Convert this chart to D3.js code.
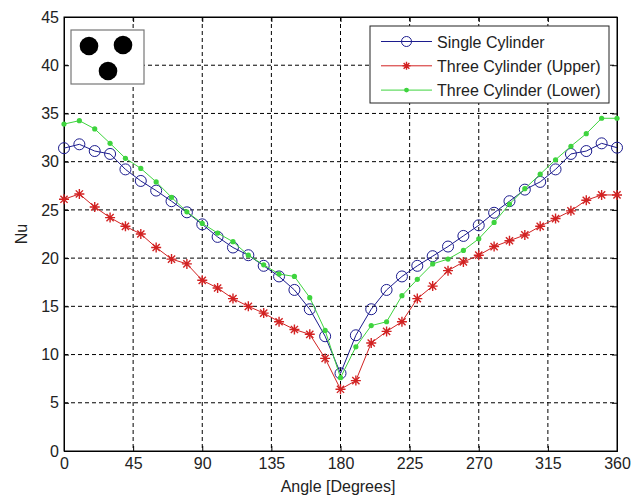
<!DOCTYPE html>
<html>
<head>
<meta charset="utf-8">
<script src="https://cdn.jsdelivr.net/npm/d3@7/dist/d3.min.js"></script>
<style>
  html, body { margin: 0; padding: 0; background: #ffffff; }
  svg { display: block; }
  text { font-family: "Liberation Sans", Arial, sans-serif; fill: #222; }
</style>
</head>
<body>
<svg id="chart" width="643" height="497"></svg>
<script>
// Angular positions around the cylinder, every 10 degrees
const angles = [0,10,20,30,40,50,60,70,80,90,100,110,120,130,140,150,160,170,180,
                190,200,210,220,230,240,250,260,270,280,290,300,310,320,330,340,350,360];

// Local Nusselt number for each configuration
const singleCylinder = [31.4,31.8,31.1,30.8,29.2,28.0,27.0,25.9,24.75,23.5,22.2,21.1,20.3,19.2,18.1,16.7,14.7,11.9,8.05,
                        12.0,14.7,16.7,18.1,19.2,20.2,21.2,22.3,23.4,24.7,25.9,27.1,27.9,29.2,30.8,31.1,31.9,31.45];
const threeUpper = [26.1,26.65,25.3,24.2,23.3,22.5,21.1,19.9,19.4,17.7,16.9,15.8,15.0,14.3,13.4,12.6,12.1,9.6,6.4,
                    7.3,11.2,12.4,13.4,15.8,17.1,18.7,19.6,20.3,21.2,21.8,22.4,23.3,24.1,24.9,26.0,26.55,26.55];
const threeLower = [33.9,34.25,33.4,31.9,30.35,29.3,27.9,26.3,24.8,23.6,22.6,21.7,20.3,19.3,18.35,18.1,15.9,12.5,7.6,
                    10.8,13.0,13.4,16.1,17.8,19.4,19.9,20.8,22.0,23.7,25.6,27.2,28.7,30.2,31.6,32.9,34.5,34.5];

const xTicks = [0,45,90,135,180,225,270,315,360];
const yTicks = [0,5,10,15,20,25,30,35,40,45];
const seriesNames = ["Single Cylinder", "Three Cylinder (Upper)", "Three Cylinder (Lower)"];

const svg = d3.select("#chart");
const plotLeft = 64, plotRight = 617, plotTop = 17, plotBottom = 451;

const x = d3.scaleLinear().domain([0, 360]).range([plotLeft, plotRight]);
const y = d3.scaleLinear().domain([0, 45]).range([plotBottom, plotTop]);

// dashed grid
const grid = svg.append("g");
grid.selectAll("line.vx").data(xTicks.slice(1, -1)).join("line")
  .attr("x1", d => x(d)).attr("x2", d => x(d))
  .attr("y1", plotTop).attr("y2", plotBottom)
  .attr("stroke", "#000").attr("stroke-width", 1).attr("stroke-dasharray", "4,3");
grid.selectAll("line.hy").data(yTicks.slice(1, -1)).join("line")
  .attr("x1", plotLeft).attr("x2", plotRight)
  .attr("y1", d => y(d)).attr("y2", d => y(d))
  .attr("stroke", "#000").attr("stroke-width", 1).attr("stroke-dasharray", "4,3");

// axes with inward ticks
svg.append("g").attr("transform", `translate(0,${plotBottom})`)
  .call(d3.axisBottom(x).tickValues(xTicks).tickSize(-5).tickPadding(7));
svg.append("g").attr("transform", `translate(${plotLeft},0)`)
  .call(d3.axisLeft(y).tickValues(yTicks).tickSize(-5).tickPadding(5));
svg.append("g").attr("transform", `translate(0,${plotTop})`)
  .call(d3.axisTop(x).tickValues(xTicks).tickSize(-5).tickFormat(""));
svg.append("g").attr("transform", `translate(${plotRight},0)`)
  .call(d3.axisRight(y).tickValues(yTicks).tickSize(-5).tickFormat(""));
svg.selectAll(".domain").attr("stroke", "#000");
svg.selectAll(".tick line").attr("stroke", "#000");
svg.selectAll(".tick text").style("font-size", "16px").attr("fill", "#222")
  .style("font-family", "'Liberation Sans', Arial, sans-serif");

// plot frame
svg.append("rect").attr("x", plotLeft).attr("y", plotTop)
  .attr("width", plotRight - plotLeft).attr("height", plotBottom - plotTop)
  .attr("fill", "none").attr("stroke", "#000").attr("stroke-width", 1);

// axis titles
svg.append("text").attr("x", 338).attr("y", 492)
  .attr("text-anchor", "middle").style("font-size", "16px").text("Angle [Degrees]");
svg.append("text").attr("transform", `translate(27,${(plotTop + plotBottom) / 2}) rotate(-90)`)
  .attr("text-anchor", "middle").style("font-size", "16px").text("Nu");

const colors = ["#1c1c8e", "#d22222", "#3ed43e"];
const line = d3.line().x((d, i) => x(angles[i])).y(d => y(d));

function asterisk(s) {
  const a = s * 0.72;
  return `M${-s},0L${s},0M0,${-s}L0,${s}M${-a},${-a}L${a},${a}M${-a},${a}L${a},${-a}`;
}

function drawMarkers(g, data, kind, color) {
  const pts = g.selectAll("g.pt").data(data).join("g")
    .attr("transform", (d, i) => `translate(${x(angles[i])},${y(d)})`);
  if (kind === "circle") {
    pts.append("circle").attr("r", 5.5).attr("fill", "none").attr("stroke", color).attr("stroke-width", 1);
  } else if (kind === "star") {
    pts.append("path").attr("d", asterisk(5)).attr("stroke", color).attr("stroke-width", 1.4).attr("fill", "none");
  } else {
    pts.append("circle").attr("r", 2.6).attr("fill", color).attr("stroke", "none");
  }
}

const allSeries = [singleCylinder, threeUpper, threeLower];
const kinds = ["circle", "star", "dot"];
allSeries.forEach((data, k) => {
  const g = svg.append("g");
  g.append("path").datum(data).attr("d", line)
    .attr("fill", "none").attr("stroke", colors[k]).attr("stroke-width", 1);
  drawMarkers(g, data, kinds[k], colors[k]);
});

// legend
const lg = svg.append("g");
lg.append("rect").attr("x", 370).attr("y", 26).attr("width", 239).attr("height", 77)
  .attr("fill", "#fff").attr("stroke", "#222").attr("stroke-width", 1);
seriesNames.forEach((name, k) => {
  const ry = 41.5 + k * 24.3;
  lg.append("line").attr("x1", 381).attr("x2", 432).attr("y1", ry).attr("y2", ry)
    .attr("stroke", colors[k]).attr("stroke-width", 1);
  const m = lg.append("g").attr("transform", `translate(406.5,${ry})`);
  if (kinds[k] === "circle") {
    m.append("circle").attr("r", 5).attr("fill", "none").attr("stroke", colors[k]);
  } else if (kinds[k] === "star") {
    m.append("path").attr("d", asterisk(4)).attr("stroke", colors[k]).attr("stroke-width", 1.4);
  } else {
    m.append("circle").attr("r", 2.4).attr("fill", colors[k]);
  }
  lg.append("text").attr("x", 437).attr("y", ry + 6).style("font-size", "16px").text(name);
});

// inset sketch of the three-cylinder arrangement
const inset = svg.append("g");
inset.append("rect").attr("x", 71).attr("y", 30).attr("width", 73).attr("height", 54)
  .attr("fill", "#fff").attr("stroke", "#777").attr("stroke-width", 1.2);
[[89, 46], [123, 45], [108, 71]].forEach(([cx, cy]) => {
  inset.append("circle").attr("cx", cx).attr("cy", cy).attr("r", 9.3).attr("fill", "#000");
});
</script>
</body>
</html>
